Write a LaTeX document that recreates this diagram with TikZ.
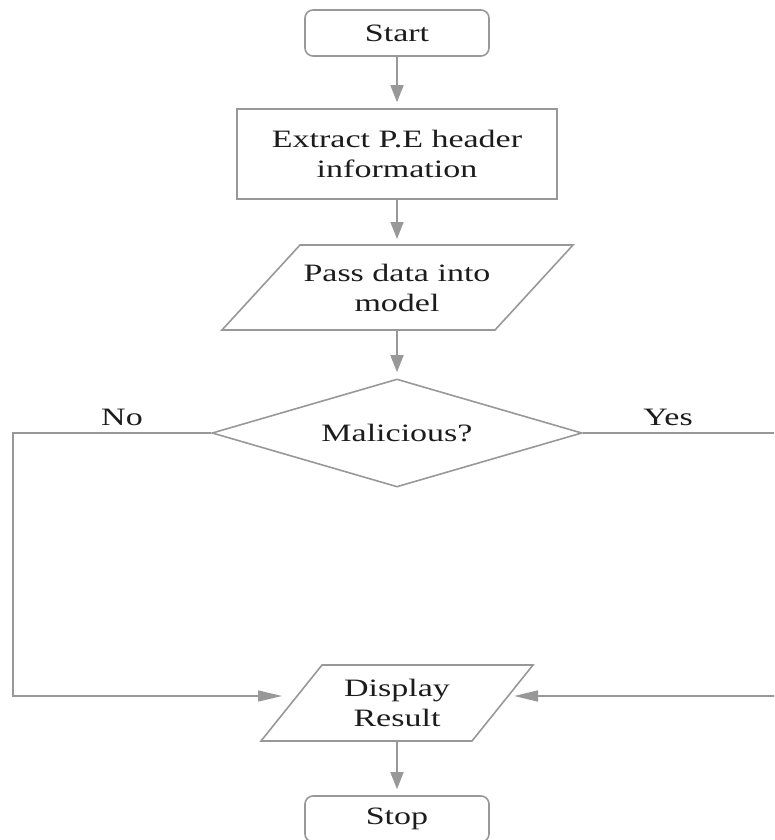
\documentclass[tikz,border=0pt]{standalone}
\usepackage{fontspec}
\setmainfont[FakeStretch=1.36]{Liberation Serif}
\usetikzlibrary{arrows.meta,shapes.geometric}

\definecolor{edgegray}{RGB}{152,152,152}
\definecolor{inkgray}{RGB}{28,28,28}

\begin{document}
\begin{tikzpicture}[x=1pt,y=-1pt,
  font=\fontsize{25}{30}\selectfont, text=inkgray,
  shapeline/.style={draw=edgegray, line width=1.6pt},
  terminal/.style={shapeline, rounded corners=8pt, minimum width=184pt, minimum height=46pt, inner sep=0pt},
  process/.style={shapeline, minimum width=320pt, minimum height=90pt, align=center, inner sep=0pt},
  iolabel/.style={align=center, inner sep=0pt, outer sep=0pt},
  decision/.style={shapeline, diamond, aspect=3.4, minimum width=370pt, minimum height=108pt, inner sep=0pt},
  flow/.style={draw=edgegray, line width=1.6pt, shorten >=6pt, -{Triangle[length=17pt,width=13pt]}},
  sideflow/.style={draw=edgegray, line width=1.6pt, -{Triangle[length=24pt,width=11pt]}},
  branch/.style={inner sep=0pt, anchor=base},
]
\useasboundingbox (0,0) rectangle (774,840);
\clip (0,0) rectangle (774,840);

% terminals and process box
\node[terminal] (start) at (397,33) {Start};
\node[process] (extract) at (397,154) {Extract P.E header\\information};

% input parallelogram
\draw[shapeline] (300,245) -- (573,245) -- (495,330) -- (222,330) -- cycle;
\node[iolabel, minimum height=85pt] (pass) at (397,287.5) {Pass data into\\model};

% decision
\node[decision] (mal) at (397,433) {Malicious?};

% output parallelogram
\draw[shapeline] (322,665) -- (533,665) -- (472,741) -- (261,741) -- cycle;
\node[iolabel, minimum height=76pt] (disp) at (397,703) {Display\\Result};

\node[terminal] (stop) at (397,819) {Stop};

% branch labels
\node[branch] (no) at (122,425) {No};
\node[branch] (yes) at (668,425) {Yes};

% connector end points
\coordinate (dispL) at (282,696);
\coordinate (dispR) at (514,696);
\coordinate (nocorner) at (13,696);
\coordinate (yescorner) at (782,696);

% main flow
\draw[flow] (start) -- (extract);
\draw[flow] (extract) -- (pass.north);
\draw[flow] (pass.south) -- (mal.north);
\draw[flow] (disp.south) -- (stop);

% branches
\draw[sideflow] (mal.west) -| (nocorner) -- (dispL);
\draw[sideflow] (mal.east) -| (yescorner) -- (dispR);
\end{tikzpicture}
\end{document}
